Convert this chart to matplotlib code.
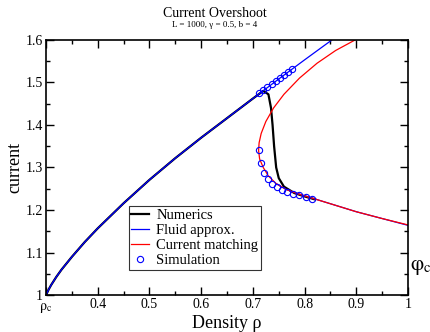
import matplotlib
matplotlib.use("Agg")
import matplotlib.pyplot as plt
import numpy as np

plt.rcParams['font.family'] = ['Liberation Serif', 'DejaVu Serif']
plt.rcParams['mathtext.fontset'] = 'stix'

# fluid approximation, upper branch
fluid_rho = [0.300, 0.305, 0.310, 0.320, 0.330, 0.350, 0.375, 0.400, 0.450,
             0.500, 0.550, 0.600, 0.650, 0.700, 0.750, 0.800, 0.853]
fluid_j = [1.000, 1.013, 1.024, 1.043, 1.060, 1.090, 1.125, 1.157, 1.216,
           1.271, 1.322, 1.370, 1.416, 1.462, 1.508, 1.553, 1.600]
# fluid approximation, lower branch
fluid_low_rho = [0.745, 0.765, 0.790, 0.820, 0.860, 0.900, 0.950, 1.000]
fluid_low_j = [1.262, 1.248, 1.237, 1.226, 1.211, 1.196, 1.180, 1.164]

# current matching (C-shaped curve)
match_rho = [0.898, 0.860, 0.824, 0.790, 0.760, 0.740, 0.725, 0.716, 0.712,
             0.711, 0.713, 0.720, 0.730, 0.745, 0.765, 0.790, 0.820, 0.860,
             0.900, 0.950, 1.000]
match_j = [1.600, 1.575, 1.545, 1.510, 1.472, 1.440, 1.408, 1.380, 1.358,
           1.340, 1.320, 1.300, 1.280, 1.262, 1.248, 1.237, 1.226, 1.211,
           1.196, 1.180, 1.165]

# numerics
num_rho = [0.300, 0.305, 0.310, 0.320, 0.330, 0.350, 0.375, 0.400, 0.450,
           0.500, 0.550, 0.600, 0.650, 0.700, 0.720, 0.730, 0.735, 0.738,
           0.741, 0.745, 0.750, 0.760, 0.780, 0.800, 0.820]
num_j = [1.000, 1.013, 1.024, 1.043, 1.060, 1.090, 1.125, 1.157, 1.216,
         1.271, 1.322, 1.370, 1.416, 1.462, 1.480, 1.472, 1.440, 1.400,
         1.350, 1.300, 1.275, 1.255, 1.240, 1.232, 1.225]

# simulation points
sim_rho = [0.712, 0.720, 0.728, 0.736, 0.744, 0.752, 0.760, 0.768, 0.776,
           0.711, 0.716, 0.722, 0.729, 0.737, 0.746, 0.756, 0.766, 0.778,
           0.790, 0.802, 0.814]
sim_j = [1.476, 1.483, 1.490, 1.497, 1.503, 1.510, 1.517, 1.524, 1.531,
         1.340, 1.310, 1.288, 1.272, 1.261, 1.253, 1.247, 1.243, 1.238,
         1.235, 1.231, 1.227]

fig = plt.figure(figsize=(4.30, 3.32), dpi=100)
ax = fig.add_axes([0.107, 0.111, 0.842, 0.769])

ax.plot(num_rho, num_j, color='black', lw=1.6, label='Numerics')
ax.plot(fluid_rho, fluid_j, color='blue', lw=0.9, label='Fluid approx.')
ax.plot(fluid_low_rho, fluid_low_j, color='blue', lw=0.9)
ax.plot(match_rho, match_j, color='red', lw=0.9, label='Current matching')
ax.plot(sim_rho, sim_j, 'o', mfc='none', mec='blue', ms=4.5, mew=0.8,
        label='Simulation')

ax.set_xlim(0.3, 1.0)
ax.set_ylim(1.0, 1.6)
ax.set_xticks(np.arange(0.3, 1.01, 0.1))
ax.set_xticklabels([r'$\mathrm{ρ}_\mathrm{c}$', '0.4', '0.5', '0.6', '0.7',
                    '0.8', '0.9', '1'])
ax.set_xticks(np.arange(0.35, 1.0, 0.1), minor=True)
ax.set_yticks(np.arange(1.0, 1.61, 0.1))
ax.set_yticklabels(['1', '1.1', '1.2', '1.3', '1.4', '1.5', '1.6'])
ax.set_yticks(np.arange(1.05, 1.6, 0.1), minor=True)
ax.tick_params(which='both', direction='in', top=True, right=True,
               labelsize=10, width=1)
ax.tick_params(which='major', length=6, pad=2)
ax.tick_params(which='minor', length=3)
ax.get_xticklabels()[0].set_y(-0.012)
for s in ax.spines.values():
    s.set_linewidth(1.2)

ax.set_xlabel('Density ρ', fontsize=13, labelpad=0)
ax.set_ylabel('current', fontsize=13, labelpad=2)
ax.text(1.003, 1.065, r'$\mathrm{φ}_\mathrm{c}$', fontsize=15, ha='left',
        va='center', transform=ax.transData, clip_on=False)

fig.text(0.5, 0.958, 'Current Overshoot', ha='center', va='center', fontsize=10)
fig.text(0.5, 0.925, 'L = 1000, γ = 0.5, b = 4', ha='center', va='center',
         fontsize=6.5)

leg = ax.legend(loc='lower left', bbox_to_anchor=(0.228, 0.098), fontsize=10.5,
                frameon=True, fancybox=False, borderpad=0.2, labelspacing=0.12,
                handlelength=1.2, handletextpad=0.5, borderaxespad=0)
leg.get_frame().set_edgecolor('black')
leg.get_frame().set_linewidth(0.8)

fig.savefig('out.png', dpi=100)
